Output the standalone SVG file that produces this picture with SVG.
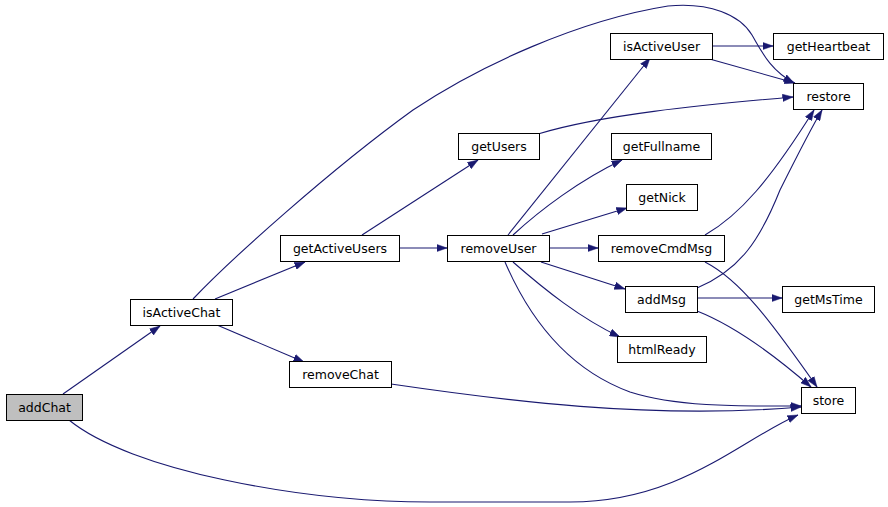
<svg xmlns="http://www.w3.org/2000/svg" width="888" height="507" viewBox="0 0 888 507">
<style>
.n rect{fill:#fff;stroke:#000;stroke-width:1}
.n text{font-family:"DejaVu Sans",sans-serif;font-size:12.5px;text-anchor:middle;fill:#000}
.e path{fill:none;stroke:#191970;stroke-width:1.1;marker-end:url(#a)}
</style>
<defs>
<marker id="a" markerUnits="userSpaceOnUse" markerWidth="11" markerHeight="8" refX="10.5" refY="4" orient="auto">
<path d="M0,0.3 L10.5,4 L0,7.7 z" fill="#191970" stroke="#191970" stroke-width="0.5"/>
</marker>
</defs>
<rect width="888" height="507" fill="#fff"/>
<g class="e" id="edges">
<path d="M63,394 L160,326"/>
<path d="M69,420 C130,470 300,502 430,502 L570,502 C680,502 740,440 798,415"/>
<path d="M193,299 C230,260 330,170 413,110 C480,65 580,20 668,6 C710,2 740,15 752,35 C762,52 770,70 794,83"/>
<path d="M215,299 L305,262"/>
<path d="M217,325 L304,362"/>
<path d="M362,235 L478,160"/>
<path d="M399,248 L447,248"/>
<path d="M538,134 C600,115 700,105 793,97"/>
<path d="M508,235 L650,58"/>
<path d="M513,235 C540,210 580,180 622,160"/>
<path d="M542,234 L627,208"/>
<path d="M549,248 L598,248"/>
<path d="M541,262 L625,289"/>
<path d="M513,262 C545,290 580,318 620,337"/>
<path d="M505,262 C530,320 570,370 630,392 C680,408 750,406 801,406"/>
<path d="M391,384 C500,400 650,420 801,407"/>
<path d="M712,46 L773,46"/>
<path d="M706,58 L795,83"/>
<path d="M705,235 C740,215 770,180 814,110"/>
<path d="M705,262 C740,280 770,320 817,387"/>
<path d="M697,288 C740,270 760,240 780,190 C795,160 810,130 822,110"/>
<path d="M697,298 L782,298"/>
<path d="M697,311 C740,328 780,360 811,387"/>
</g>
<g class="n" id="addChat"><rect x="6.5" y="394.5" width="76" height="26" style="fill:#bfbfbf"/><text x="44.5" y="412">addChat</text></g>
<g class="n" id="isActiveChat"><rect x="130.5" y="299.5" width="102" height="26"/><text x="181.5" y="317">isActiveChat</text></g>
<g class="n" id="getActiveUsers"><rect x="280.5" y="235.5" width="119" height="26"/><text x="340" y="253">getActiveUsers</text></g>
<g class="n" id="removeChat"><rect x="289.5" y="361.5" width="102" height="26"/><text x="340.5" y="379">removeChat</text></g>
<g class="n" id="getUsers"><rect x="458.5" y="133.5" width="81" height="26"/><text x="499" y="151">getUsers</text></g>
<g class="n" id="removeUser"><rect x="447.5" y="235.5" width="102" height="26"/><text x="498.5" y="253">removeUser</text></g>
<g class="n" id="isActiveUser"><rect x="610.5" y="33.5" width="102" height="26"/><text x="661.5" y="51">isActiveUser</text></g>
<g class="n" id="getFullname"><rect x="611.5" y="133.5" width="100" height="26"/><text x="661.5" y="151">getFullname</text></g>
<g class="n" id="getNick"><rect x="626.5" y="184.5" width="71" height="26"/><text x="662" y="202">getNick</text></g>
<g class="n" id="removeCmdMsg"><rect x="598.5" y="235.5" width="126" height="26"/><text x="661.5" y="253">removeCmdMsg</text></g>
<g class="n" id="addMsg"><rect x="625.5" y="286.5" width="72" height="26"/><text x="661.5" y="304">addMsg</text></g>
<g class="n" id="htmlReady"><rect x="617.5" y="336.5" width="89" height="26"/><text x="662" y="354">htmlReady</text></g>
<g class="n" id="getHeartbeat"><rect x="773.5" y="33.5" width="110" height="26"/><text x="828.5" y="51">getHeartbeat</text></g>
<g class="n" id="restore"><rect x="793.5" y="83.5" width="70" height="26"/><text x="828.5" y="101">restore</text></g>
<g class="n" id="getMsTime"><rect x="782.5" y="286.5" width="92" height="26"/><text x="828.5" y="304">getMsTime</text></g>
<g class="n" id="store"><rect x="801.5" y="387.5" width="54" height="26"/><text x="828.5" y="405">store</text></g>
</svg>
